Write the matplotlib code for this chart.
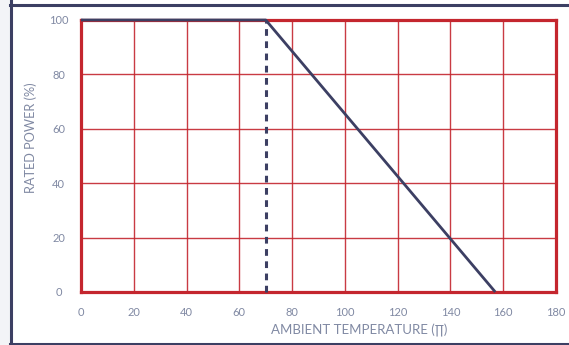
import matplotlib
matplotlib.use("Agg")
import matplotlib.pyplot as plt
from matplotlib.lines import Line2D
from matplotlib.patches import Rectangle

# Data
temps = [0, 70, 157]
power = [100, 100, 0]
knee_x = [70, 70]
knee_y = [0, 100]
xticks = [0, 20, 40, 60, 80, 100, 120, 140, 160, 180]
yticks = [0, 20, 40, 60, 80, 100]

RED = "#c4262e"
NAVY = "#3c3f63"
TXT = "#8089a3"

plt.rcParams['font.family'] = ['Lato', 'DejaVu Sans']

W, H = 569, 345
fig = plt.figure(figsize=(W / 100, H / 100), dpi=100)
fig.patch.set_facecolor("white")

# light strip at left outside frame
fig.add_artist(Rectangle((0, 0), 10 / W, 1, transform=fig.transFigure,
                         facecolor="#f3f4f7", edgecolor="none", zorder=0))
# outer frame (left, top, bottom)
fw = 2.2
fig.add_artist(Line2D([10.5 / W, 10.5 / W], [0, 1], transform=fig.transFigure, color=NAVY, lw=fw))
fig.add_artist(Line2D([10 / W, 1], [1 - 4.5 / H, 1 - 4.5 / H], transform=fig.transFigure, color=NAVY, lw=fw))
fig.add_artist(Line2D([10 / W, 1], [1 - 343.5 / H, 1 - 343.5 / H], transform=fig.transFigure, color=NAVY, lw=fw))

left, right, top, bottom = 81, 556, 20, 292
ax = fig.add_axes([left / W, 1 - bottom / H, (right - left) / W, (bottom - top) / H])
ax.set_xlim(0, 180)
ax.set_ylim(0, 100)
ax.set_xticks(xticks)
ax.set_yticks(yticks)
ax.set_xticklabels([str(t) for t in xticks])
ax.set_yticklabels([str(t) for t in yticks])
ax.grid(True, color=RED, lw=1.0, alpha=0.9)
ax.set_axisbelow(True)
for s in ax.spines.values():
    s.set_color(RED)
    s.set_linewidth(2.3)
ax.tick_params(length=0, labelsize=8, labelcolor=TXT)
ax.tick_params(axis='y', pad=16)
ax.tick_params(axis='x', pad=11)
for lab in ax.get_yticklabels():
    lab.set_horizontalalignment('center')
    lab.set_verticalalignment('center_baseline')

ax.plot(temps, power, color=NAVY, lw=2.0, zorder=5, clip_on=False, solid_capstyle='butt')
ax.plot(knee_x, knee_y, color=NAVY, lw=2.2, ls=(0, (2.2, 1.8)), zorder=5, clip_on=False)

ax.set_xlabel("AMBIENT TEMPERATURE (∏)", fontsize=9.5, color=TXT, va='center')
ax.xaxis.set_label_coords((359 - left) / (right - left), -(330 - bottom) / (bottom - top))
ax.set_ylabel("RATED POWER (%)", fontsize=9.2, color=TXT, va='center')
ax.yaxis.set_label_coords((31 - left) / (right - left), (bottom - 138) / (bottom - top))

fig.savefig("out.png", dpi=100)
